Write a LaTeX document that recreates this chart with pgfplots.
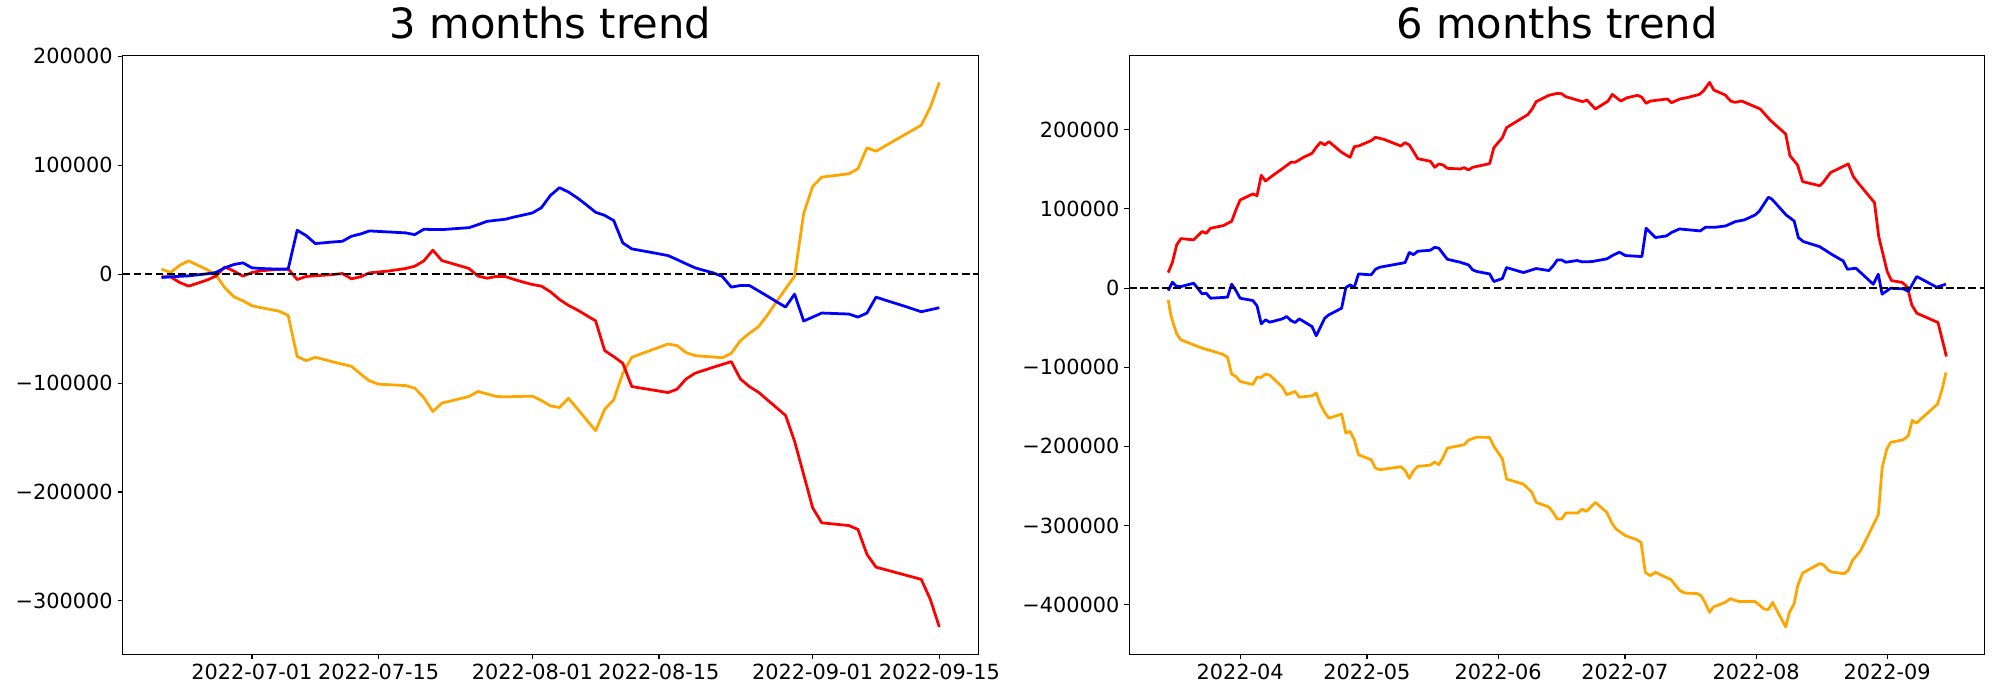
\documentclass[border=0pt]{standalone}
\usepackage{fontspec}
\setmainfont{DejaVu Sans}
\usepackage{pgfplots}
\pgfplotsset{compat=1.18}
\definecolor{mplorange}{RGB}{255,165,0}
\definecolor{mplred}{RGB}{255,0,0}
\definecolor{mplblue}{RGB}{0,0,255}
\pgfplotsset{
  trend/.style={
    scale only axis, width=616bp, height=431.3bp, anchor=south west,
    axis line style={line width=0.8bp},
    every tick/.style={line width=0.8bp, black},
    major tick length=3.5bp,
    tick align=outside,
    xtick pos=bottom, ytick pos=left,
    scaled y ticks=false, scaled x ticks=false,
    xticklabel style={font=\fontsize{15bp}{18bp}\selectfont, inner sep=0pt, anchor=north, yshift=-3.5bp},
    yticklabel style={font=\fontsize{15bp}{18bp}\selectfont, inner sep=0pt, anchor=east, xshift=-3.5bp},
    title style={font=\fontsize{30bp}{36bp}\selectfont, at={(0.5,1)}, anchor=base, yshift=6bp},
    every axis plot/.append style={line width=2bp, line join=round, mark=none},
  },
  zero/.style={black, line width=1.5bp, dash pattern=on 5.55bp off 2.4bp},
}
\begin{document}
\begin{tikzpicture}
\path[use as bounding box] (0,0) rectangle (1440bp,504bp);
% ---------------- 3 months ----------------
\begin{axis}[trend, at={(88.3bp,33bp)},
  title={3 months trend},
  xmin=-14.3, xmax=80.3, ymin=-348900, ymax=201100,
  xtick={0,14,31,45,62,76},
  xticklabels={2022-07-01,2022-07-15,2022-08-01,2022-08-15,2022-09-01,2022-09-15},
  ytick={-300000,-200000,-100000,0,100000,200000},
  yticklabels={−300000,−200000,−100000,0,100000,200000},
]
\addplot[mplorange] coordinates {
(-10,4600) (-9,1500) (-8,8200) (-7,12200) (-6,8200) (-5,4300) (-4,-600) (-3,-12500)
(-2,-20800) (-1,-24400) (0,-29000) (1,-30800) (3,-34000) (4,-37800) (5,-75700) (6,-79400)
(7,-76300) (9,-80600) (11,-84600) (12,-91600) (13,-98000) (14,-101000) (17,-102300)
(18,-104700) (19,-113300) (20,-126100) (21,-118400) (24,-112300) (25,-107700) (27,-112300)
(28,-112600) (31,-112000) (32,-116000) (33,-120900) (34,-122400) (35,-113900) (38,-143800)
(39,-124000) (40,-115400) (41,-90900) (42,-76300) (46,-64100) (47,-65600) (48,-72000)
(49,-74800) (52,-76700) (53,-72600) (54,-61100) (55,-54300) (56,-48200) (57,-37500)
(58,-25200) (59,-13500) (60,-1800) (61,55600) (62,80600) (63,89100) (66,92200) (67,96800)
(68,116000) (69,112900) (74,136800) (75,153200) (76,176100)
};
\addplot[mplred] coordinates {
(-10,-2400) (-9,-2400) (-8,-7600) (-7,-11000) (-5,-5500) (-4,-1800) (-3,6700) (-2,2800)
(-1,-1800) (0,1500) (1,3100) (3,4600) (4,4900) (5,-4900) (6,-2100) (7,-1500) (9,-300)
(10,600) (11,-4300) (12,-2400) (13,1200) (15,2800) (17,5200) (18,7300) (19,12200)
(20,22000) (21,12500) (24,5200) (25,-1800) (26,-3700) (27,-2100) (28,-2100) (29,-4900)
(30,-7300) (31,-9500) (32,-11000) (33,-16200) (34,-23200) (35,-28700) (36,-33000)
(37,-37900) (38,-42900) (39,-70200) (40,-75700) (41,-81800) (42,-103200) (46,-108700)
(47,-105600) (48,-96200) (49,-90900) (51,-85500) (53,-80300) (54,-96200) (55,-103200)
(56,-108400) (59,-129700) (60,-153500) (61,-184000) (62,-214600) (63,-228300)
(66,-230800) (67,-234400) (68,-257300) (69,-269000) (74,-280200) (75,-298500) (76,-323900)
};
\addplot[mplblue] coordinates {
(-10,-3050) (-9,-2440) (-7,-1530) (-5,300) (-4,1500) (-3,5800) (-2,8850) (-1,10400)
(0,5800) (1,5200) (3,4600) (4,4600) (5,40300) (6,35400) (7,28100) (9,29600) (10,30200)
(11,34800) (12,36900) (13,39700) (15,38800) (17,37900) (18,36300) (19,41200) (21,40900)
(24,42700) (25,45500) (26,48500) (27,49500) (28,50400) (29,52500) (30,54300) (31,56200)
(32,61000) (33,72300) (34,79400) (35,75400) (36,69900) (37,63500) (38,56800) (39,54000)
(40,49200) (41,28700) (42,23200) (44,20200) (46,17100) (47,13400) (48,9500) (49,5800)
(50,3400) (51,1200) (52,-2100) (53,-11900) (54,-10400) (55,-10400) (56,-15300)
(57,-20200) (58,-25300) (59,-30200) (60,-18300) (61,-43000) (62,-39400) (63,-35700)
(64,-36000) (66,-36600) (67,-39400) (68,-35700) (69,-21100) (70,-23800) (72,-29000)
(74,-34500) (76,-30800)
};
\addplot[zero] coordinates {(-14.3,0) (80.3,0)};
\end{axis}
% ---------------- 6 months ----------------
\begin{axis}[trend, at={(813.1bp,33bp)},
  title={6 months trend},
  xmin=-26.2, xmax=176.1, ymin=-462500, ymax=294300,
  xtick={0,30,61,91,122,153},
  xticklabels={2022-04,2022-05,2022-06,2022-07,2022-08,2022-09},
  ytick={-400000,-300000,-200000,-100000,0,100000,200000},
  yticklabels={−400000,−300000,−200000,−100000,0,100000,200000},
]
\addplot[mplorange] coordinates {
(-17,-14900) (-16.4,-33800) (-15.7,-46500) (-15,-57800) (-14,-65400) (-9,-75900)
(-7,-78900) (-4.2,-83500) (-3,-87300) (-2,-108700) (-1,-111700) (0,-118000) (3,-121800)
(4,-112500) (5,-112900) (6,-108700) (7,-110000) (10,-125100) (11,-134800) (13,-130600)
(14,-137800) (17,-136100) (18,-132700) (19,-147400) (20,-157100) (21,-164300)
(24,-159200) (25,-183200) (26,-181100) (27,-191600) (28,-210600) (31,-216900)
(32,-227400) (33,-229500) (38,-225700) (39,-230300) (40,-240400) (41,-230800)
(42,-225300) (45,-223600) (46,-219800) (47,-223200) (48,-213900) (49,-202100)
(53,-197900) (54,-192000) (56,-188300) (59,-188700) (60,-200000) (62,-215600)
(63,-241300) (67,-247600) (69,-258100) (70,-270700) (73,-276600) (74,-283400)
(75,-291800) (76,-291800) (77,-284200) (79.8,-284200) (80.9,-279200) (81.9,-282100)
(84,-270700) (86.7,-283400) (87.9,-296800) (88.9,-304400) (91.1,-312800) (93.8,-317900)
(94.8,-321200) (95.8,-359100) (97,-363300) (98.2,-359100) (101.9,-368400)
(103.9,-381800) (105.1,-385200) (108,-386000) (109,-388600) (109.9,-397000)
(111,-409600) (111.9,-402900) (114.7,-397000) (115.9,-392400) (118,-396100)
(121.8,-396100) (123.9,-405400) (124.9,-406200) (125.9,-397000) (129,-428100)
(129.9,-409600) (131,-398700) (131.8,-376800) (133,-360000) (137,-348200)
(137.9,-349400) (139.1,-356600) (139.9,-358700) (142.8,-360800) (143.8,-356600)
(144.8,-344000) (146.7,-331800) (150.9,-286300) (151.8,-227400) (152.9,-203400)
(153.8,-195000) (156.8,-191600) (158,-186600) (158.9,-167200) (159.9,-170600)
(164.9,-146600) (166,-127700) (166.9,-106600)
};
\addplot[mplred] coordinates {
(-17,19600) (-16,32700) (-15,54500) (-14,62500) (-11,60900) (-9,71400) (-8,69300)
(-7,75600) (-4,78900) (-2,84400) (-1,98700) (0,111300) (3,118900) (4,116800) (5,142500)
(6,135300) (8,143300) (10,150900) (12,158900) (13,158900) (15,165200) (17,170300)
(18,177800) (19,184100) (20,180800) (21,185000) (24,171500) (26,165200) (27,178700)
(28,179500) (31,186300) (32,190500) (34,187900) (38,179500) (39,183700) (40,180800)
(41,172400) (42,163500) (45,160200) (46,152600) (47,156800) (48,155500) (49,151300)
(52,150500) (53,152200) (54,149200) (55,152600) (59,157200) (60,177400) (62,190000)
(63,202700) (68,219100) (69,225800) (70,235500) (73,243500) (75,246000) (76,245600)
(77,241800) (81,235500) (82,237600) (84,226200) (87,236300) (88,244700) (90,236300)
(91.5,240500) (94,243500) (95,241000) (96,233400) (97,236300) (101,238900) (102,234200)
(104,238900) (105.6,240500) (108.6,244700) (109.6,249400) (111,259900) (112,250200)
(114.7,243900) (116,236300) (117,234600) (118.6,236300) (123,226200) (125.3,212300)
(129,194700) (130,167300) (131.8,155500) (133,134500) (137,129400) (137.7,132400)
(139.6,145900) (143.8,156800) (145,140800) (146.2,132400) (150,108000) (151,65100)
(153,20900) (154,9500) (156.6,7000) (157.8,1100) (158.8,-21200) (160,-31700)
(165,-43500) (166,-64600) (167,-86400)
};
\addplot[mplblue] coordinates {
(-17,-3100) (-16,7400) (-15,1900) (-14,1900) (-11,6100) (-10,-200) (-9,-7300) (-8,-6500)
(-7,-12800) (-3,-11500) (-2,4900) (-1,-3100) (0,-12800) (3,-15700) (4,-22500) (5,-45200)
(6,-40100) (7,-43100) (10,-38900) (11,-35900) (12,-41000) (13,-43500) (14,-38900)
(17,-48600) (18,-60300) (20,-38000) (21,-33800) (24,-25400) (25,700) (26,4000) (27,1100)
(28,17900) (31,16700) (32,23800) (33,26300) (39,32200) (40,44900) (41,42300) (42,46500)
(45,47800) (46,51600) (47,50300) (48,43200) (49,36400) (52,32700) (54,29300) (55,23000)
(56,20900) (59,17900) (60,8300) (62,12000) (63,25900) (67,19600) (70,24700) (73,22100)
(74,28000) (75,35600) (76,35600) (77,32650) (79.7,34800) (80.9,33100) (83.2,33500)
(86.7,36900) (88.3,41900) (89.7,45300) (91.1,41100) (95,39800) (96,75600) (98.2,63800)
(100.8,65900) (102.1,70500) (103.9,74700) (108.8,72200) (110,76800) (112.3,76800)
(114.8,78500) (117.1,84000) (119.2,86100) (121.8,92400) (122.8,97500) (124.9,114700)
(125.7,112600) (129.1,92400) (131,84800) (132,63800) (133.2,58700) (137,52400)
(138,49100) (140.1,41900) (142.6,34300) (143.6,23800) (145.6,25100) (149.7,4900)
(150.9,17500) (151.8,-7700) (153.8,-200) (156.8,-1000) (158,-4000) (160,14600)
(164.7,1100) (166.9,4900)
};
\addplot[zero] coordinates {(-26.2,0) (176.1,0)};
\end{axis}
\end{tikzpicture}
\end{document}
